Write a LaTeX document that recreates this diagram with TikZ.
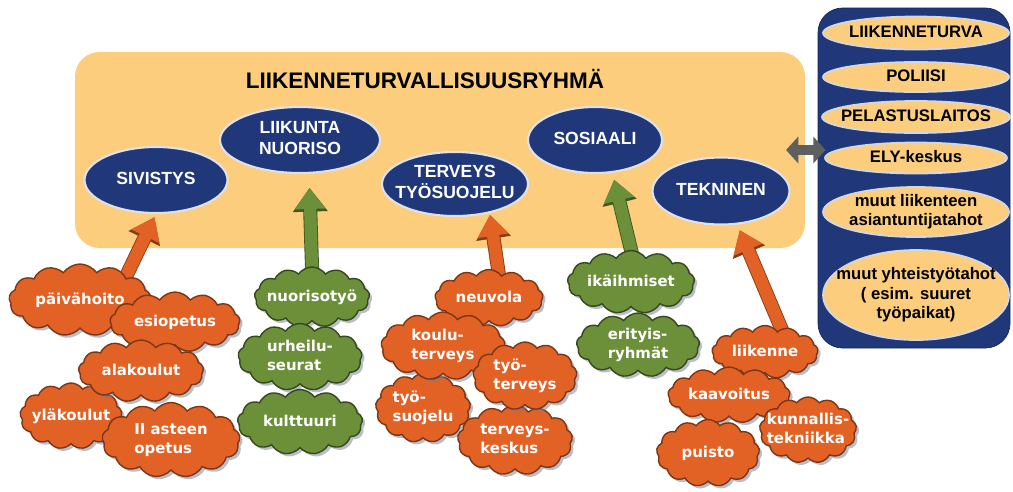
\documentclass[tikz,border=0pt]{standalone}
\usepackage{fontspec}
\setmainfont{Liberation Sans}
\newfontfamily\cloudfont{DejaVu Sans}
\usetikzlibrary{arrows.meta, shapes.geometric, shapes.symbols, shadows}

\definecolor{boxorange}{RGB}{252,205,125}
\definecolor{navy}{RGB}{32,56,122}
\definecolor{cloudorange}{RGB}{226,98,38}
\definecolor{cloudgreen}{RGB}{108,143,58}
\definecolor{shadowc}{RGB}{115,125,150}
\definecolor{arrowgray}{RGB}{95,95,95}

% text boxes of no size, so the shapes keep their given size
\newcommand{\cloudtxt}[1]{\makebox[0pt]{\raisebox{-0.25em}[0pt][0pt]{\begin{tabular}{@{}l@{}}#1\end{tabular}}}}
\newcommand{\ovaltxt}[1]{\makebox[0pt]{\raisebox{-0.25em}[0pt][0pt]{\begin{tabular}{@{}c@{}}#1\end{tabular}}}}

\pgfdeclarelayer{back}
\pgfdeclarelayer{mid}
\pgfsetlayers{back,mid,main}

\tikzset{
    sz/.style 2 args={minimum width=#1*0.02cm, minimum height=#2*0.02cm},
    groupbox/.style={rectangle, rounded corners=14pt, fill=boxorange, inner sep=0pt},
    panel/.style={rectangle, rounded corners=14pt, fill=navy, draw=navy!70!black, inner sep=0pt},
    unit/.style={ellipse, fill=navy, draw=white!85!navy, line width=1.2pt, text=white, inner sep=1pt,
      font=\bfseries\fontsize{10}{11.5}\selectfont},
    partner/.style={ellipse, fill=boxorange, draw=white!80!navy, line width=1pt, inner sep=1pt,
      font=\bfseries\fontsize{9.5}{11}\selectfont},
    cloudbox/.style={cloud, cloud puffs=13, cloud puff arc=110, cloud ignores aspect, inner sep=1pt,
      text=white, line width=0.8pt, font=\cloudfont\bfseries\fontsize{8.5}{11}\selectfont,
      drop shadow={shadow xshift=1.6pt, shadow yshift=-1.6pt, fill=shadowc}},
    orangecloud/.style={cloudbox, fill=cloudorange, draw=cloudorange!55!black},
    greencloud/.style={cloudbox, fill=cloudgreen, draw=cloudgreen!50!black},
    uparrow/.style={draw=#1, line width=7pt, -{Triangle[length=12pt,width=17pt]}, shorten <=-6pt,
      preaction={draw=#1!60!black, line width=8pt, -{Triangle[length=13.5pt,width=19pt]}}},
    linkarrow/.style={draw=arrowgray, line width=6pt,
      {Triangle[length=7pt,width=15pt]}-{Triangle[length=7pt,width=15pt]}}
}

\begin{document}
\begin{tikzpicture}[x=0.02cm, y=-0.02cm]

    \useasboundingbox (0,0) rectangle (1013,491);

    % Working group box
    \begin{pgfonlayer}{back}
      \fill[white] (0,0) rectangle (1013,491);
      \node[groupbox, sz={730}{196}] (ltr) at (440,150) {};
    \end{pgfonlayer}
    \node[font=\bfseries\fontsize{12.8}{15}\selectfont] (title) at (425,79) {LIIKENNETURVALLISUUSRYHMÄ};

    % Sectors
    \node[unit, sz={143}{66}] (sivistys) at (156,180) {\ovaltxt{SIVISTYS}};
    \node[unit, sz={160}{66}] (liikunta) at (300,140) {\ovaltxt{LIIKUNTA\\NUORISO}};
    \node[unit, sz={146}{64}] (terveys) at (455,184) {\ovaltxt{TERVEYS\\TYÖSUOJELU}};
    \node[unit, sz={134}{66}] (sosiaali) at (595,140) {\ovaltxt{SOSIAALI}};
    \node[unit, sz={137}{67}] (tekninen) at (721,191) {\ovaltxt{TEKNINEN}};

    % Education clouds
    \node[orangecloud, sz={142}{72}] (paivahoito) at (80,300) {\cloudtxt{päivähoito}};
    \node[orangecloud, sz={130}{60}] (esiopetus) at (175,322) {\cloudtxt{esiopetus}};
    \node[orangecloud, sz={102}{66}] (ylakoulut) at (71,416) {\cloudtxt{yläkoulut}};
    \node[orangecloud, sz={125}{62}] (alakoulut) at (141,371) {\cloudtxt{alakoulut}};
    \node[orangecloud, sz={138}{75}] (asteen) at (171,440) {\cloudtxt{II asteen\\opetus}};

    % Youth and sports clouds
    \node[greencloud, sz={115}{60}] (nuorisotyo) at (312,297) {\cloudtxt{nuorisotyö}};
    \node[greencloud, sz={124}{67}] (urheilu) at (300,357) {\cloudtxt{urheilu-\\seurat}};
    \node[greencloud, sz={125}{65}] (kulttuuri) at (300,422) {\cloudtxt{kulttuuri}};

    % Health clouds
    \node[orangecloud, sz={108}{57}] (neuvola) at (489,298) {\cloudtxt{neuvola}};
    \node[orangecloud, sz={95}{69}] (tyosuojelu) at (423,408) {\cloudtxt{työ-\\suojelu}};
    \node[orangecloud, sz={115}{70}] (terveyskeskus) at (515,440) {\cloudtxt{terveys-\\keskus}};
    \node[orangecloud, sz={124}{68}] (kouluterveys) at (443,346) {\cloudtxt{koulu-\\terveys}};
    \node[orangecloud, sz={104}{68}] (tyoterveys) at (525,376) {\cloudtxt{työ-\\terveys}};

    % Social clouds
    \node[greencloud, sz={127}{63}] (ikaihmiset) at (631,282) {\cloudtxt{ikäihmiset}};
    \node[greencloud, sz={123}{64}] (erityis) at (638,345) {\cloudtxt{erityis-\\ryhmät}};

    % Technical clouds
    \node[orangecloud, sz={106}{53}] (liikenne) at (765,352) {\cloudtxt{liikenne}};
    \node[orangecloud, sz={122}{56}] (kaavoitus) at (729,395) {\cloudtxt{kaavoitus}};
    \node[orangecloud, sz={103}{67}] (puisto) at (708,453) {\cloudtxt{puisto}};
    \node[orangecloud, sz={97}{66}] (kunnallis) at (808,430) {\cloudtxt{kunnallis-\\tekniikka}};

    % Arrows up to the sectors
    \begin{pgfonlayer}{mid}
      \draw[uparrow=cloudorange, shorten >=2pt] (paivahoito.north east) -- (sivistys.south);
      \draw[uparrow=cloudgreen, shorten >=8pt] (nuorisotyo.north) -- (liikunta.-75);
      \draw[uparrow=cloudorange, shorten >=1pt] (neuvola.70) -- (terveys.-40);
      \draw[uparrow=cloudgreen, shorten >=4pt] (ikaihmiset.north) -- (sosiaali.-62);
      \draw[uparrow=cloudorange, shorten >=3.5pt] (liikenne.55) -- (tekninen.-64);
    \end{pgfonlayer}

    % Partners
    \node[panel, sz={192}{340}] (ext) at (914,178) {};
    \node[partner, sz={186}{33}] (liikenneturva) at (916,33) {\ovaltxt{LIIKENNETURVA}};
    \node[partner, sz={186}{30}] (poliisi) at (916,77) {\ovaltxt{POLIISI}};
    \node[partner, sz={188}{32}] (pelastus) at (916,117) {\ovaltxt{PELASTUSLAITOS}};
    \node[partner, sz={182}{31}] (ely) at (916,158) {\ovaltxt{ELY-keskus}};
    \node[partner, sz={186}{50}] (asiantuntija) at (916,212) {\ovaltxt{muut liikenteen\\asiantuntijatahot}};
    \node[partner, sz={186}{90}] (yhteistyo) at (916,295) {\ovaltxt{muut yhteistyötahot\\( esim. suuret\\työpaikat)}};

    % Link between group and partners
    \draw[linkarrow, shorten <=-11pt, shorten >=-4.5pt] (ltr.east) -- (ltr.east -| ext.west);

\end{tikzpicture}
\end{document}
